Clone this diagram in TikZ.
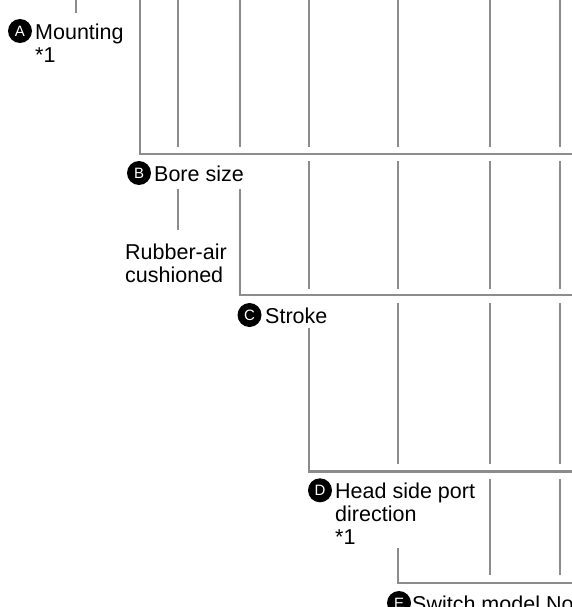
\documentclass[tikz,border=0pt]{standalone}
\usepackage{fontspec}
\setmainfont{Liberation Sans}
\tikzset{
  ln/.style={draw=black!45, line width=2.2pt},
  badge/.style={circle, fill=black, text=white, inner sep=0pt, minimum size=24pt, font=\fontsize{15}{15}\selectfont},
  lbl/.style={anchor=base west, inner sep=0pt, align=left, font=\fontsize{21.5}{23.3}\selectfont},
}
\begin{document}
\begin{tikzpicture}[x=1pt,y=-1pt]
\useasboundingbox (0,0) rectangle (572,607);
% labels (multi-line labels are placed by the baseline of their last line)
\node[badge] (ca) at (20,31) {A};
\node[lbl] (ta) at (35,62.6) {Mounting\\*1};
\node[badge] (cb) at (139,173) {B};
\node[lbl] (tb) at (154,181) {Bore size};
\node[lbl] (tr) at (125,282.6) {Rubber-air\\cushioned};
\node[badge] (cc) at (249.5,315) {C};
\node[lbl] (tc) at (265,323) {Stroke};
\node[badge] (cd) at (320,490.3) {D};
\node[lbl] (td) at (335,544.9) {Head side port\\direction\\*1};
\node[badge] (ce) at (399,603) {E};
\node[lbl] (te) at (412,611) {Switch model No.};
% section 1
\draw[ln] (76,0) -- (76,13);
\draw[ln] (140,0) -- (140,154) -- (573,154);
\foreach \x in {178,240,309,398,490,560} \draw[ln] (\x,0) -- (\x,147);
% section 2
\draw[ln] (178,189) -- (178,230);
\draw[ln] (240,189) -- (240,295) -- (573,295);
\foreach \x in {309,398,490,560} \draw[ln] (\x,161) -- (\x,289);
% section 3
\draw[ln] (309,328) -- (309,471.5) -- (573,471.5);
\foreach \x in {398,490,560} \draw[ln] (\x,303) -- (\x,464);
% section 4
\draw[ln] (398,548) -- (398,583) -- (573,583);
\foreach \x in {490,560} \draw[ln] (\x,479) -- (\x,575);
\end{tikzpicture}
\end{document}
